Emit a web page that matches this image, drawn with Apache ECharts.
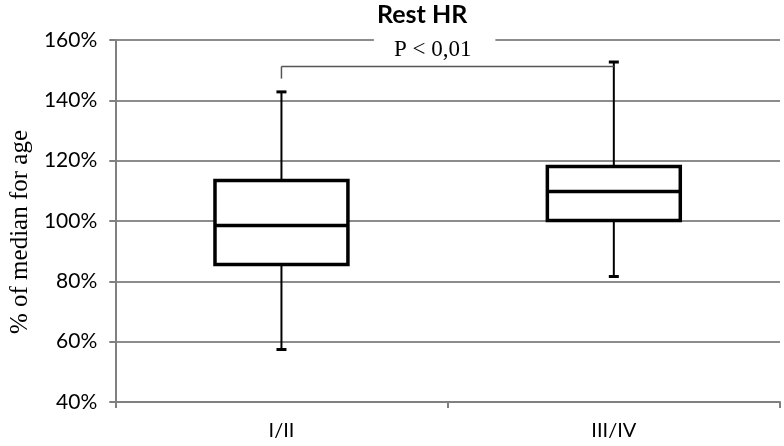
<!DOCTYPE html>
<html><head><meta charset="utf-8">
<script src="https://cdn.jsdelivr.net/npm/echarts@6/dist/echarts.min.js"></script>
<style>html,body{margin:0;padding:0;background:#fff}#c{width:784px;height:446px}</style>
</head><body><div id="c"></div>
<script>
const categories = ['I/II', 'III/IV'];
const whiskerLow = [57.4, 81.6];
const q1 = [85.6, 100.2];
const median = [98.5, 109.8];
const q3 = [113.4, 118.1];
const whiskerHigh = [142.8, 152.7];
const yTicks = [40, 60, 80, 100, 120, 140, 160];
const bracketLevel = 151.2;
const bracketLeftEnd = 147.2;
const pLabel = 'P < 0,01';
const pLabelLevel = 156.8;

const boxData = categories.map((c, i) => [i, whiskerLow[i], q1[i], median[i], q3[i], whiskerHigh[i]]);

const chart = echarts.init(document.getElementById('c'));
chart.setOption({
  animation: false,
  title: {
    text: 'Rest HR', left: 372, top: -3,
    textStyle: { fontFamily: 'Lato', fontWeight: 'bold', fontSize: 25, color: '#000' }
  },
  grid: { left: 108, right: 4, top: 40, bottom: 44 },
  xAxis: {
    type: 'category', data: categories, boundaryGap: true,
    axisLine: { lineStyle: { color: '#808080', width: 2 } },
    axisTick: { show: true, length: 6, lineStyle: { color: '#808080', width: 2 } },
    axisLabel: { margin: 19, fontFamily: 'Lato', fontSize: 20, color: '#000' },
    splitLine: { show: false }
  },
  yAxis: {
    type: 'value', min: yTicks[0], max: yTicks[yTicks.length - 1], interval: 20,
    name: '% of median for age', nameLocation: 'middle', nameGap: 74, nameRotate: 90,
    nameTextStyle: { fontFamily: 'Liberation Serif', fontSize: 25, color: '#000', padding: [0, 22, 0, 0] },
    axisLine: { show: true, lineStyle: { color: '#808080', width: 2 } },
    axisTick: { show: true, length: 6, lineStyle: { color: '#808080', width: 2 } },
    axisLabel: { margin: 18, fontFamily: 'Lato', fontSize: 21, color: '#000', formatter: '{value}%' },
    splitLine: { show: true, lineStyle: { color: '#8c8c8c', width: 2 } }
  },
  series: [
    {
      type: 'custom',
      data: boxData,
      z: 5,
      renderItem: function (params, api) {
        const x = api.value(0);
        const pLow = api.coord([x, api.value(1)]);
        const pQ1 = api.coord([x, api.value(2)]);
        const pMed = api.coord([x, api.value(3)]);
        const pQ3 = api.coord([x, api.value(4)]);
        const pHigh = api.coord([x, api.value(5)]);
        const bw = api.size([1, 0])[0] * 0.4;
        const cx = pMed[0];
        const cap = 5;
        const ls = { stroke: '#000', lineWidth: 2 };
        return {
          type: 'group',
          children: [
            { type: 'line', shape: { x1: cx, y1: pQ3[1], x2: cx, y2: pHigh[1] }, style: ls },
            { type: 'line', shape: { x1: cx, y1: pQ1[1], x2: cx, y2: pLow[1] }, style: ls },
            { type: 'line', shape: { x1: cx - cap, y1: pHigh[1], x2: cx + cap, y2: pHigh[1] }, style: { stroke: '#000', lineWidth: 3 } },
            { type: 'line', shape: { x1: cx - cap, y1: pLow[1], x2: cx + cap, y2: pLow[1] }, style: { stroke: '#000', lineWidth: 3 } },
            { type: 'rect', shape: { x: cx - bw / 2, y: pQ3[1], width: bw, height: pQ1[1] - pQ3[1] }, style: { fill: '#fff', stroke: '#000', lineWidth: 3.5 } },
            { type: 'line', shape: { x1: cx - bw / 2, y1: pMed[1], x2: cx + bw / 2, y2: pMed[1] }, style: { stroke: '#000', lineWidth: 3.5 } }
          ]
        };
      }
    },
    {
      type: 'custom',
      data: [[0, 1, bracketLevel, bracketLeftEnd, pLabelLevel]],
      z: 6,
      renderItem: function (params, api) {
        const a = api.coord([api.value(0), api.value(2)]);
        const b = api.coord([api.value(1), api.value(2)]);
        const d = api.coord([api.value(0), api.value(3)]);
        const ty = api.coord([api.value(0), api.value(4)])[1];
        const tx = (a[0] + b[0]) / 2 - 13;
        const ls = { stroke: '#555', lineWidth: 1.5 };
        return {
          type: 'group',
          children: [
            { type: 'line', shape: { x1: a[0], y1: a[1], x2: b[0], y2: b[1] }, style: ls },
            { type: 'line', shape: { x1: a[0], y1: a[1], x2: d[0], y2: d[1] }, style: ls },
            { type: 'text', x: tx, y: ty, style: {
                text: pLabel, fill: '#000', font: '23px "Liberation Serif"',
                align: 'center', verticalAlign: 'middle',
                backgroundColor: '#fff', padding: [5, 24, 0, 20]
              } }
          ]
        };
      }
    }
  ]
});
</script></body></html>
